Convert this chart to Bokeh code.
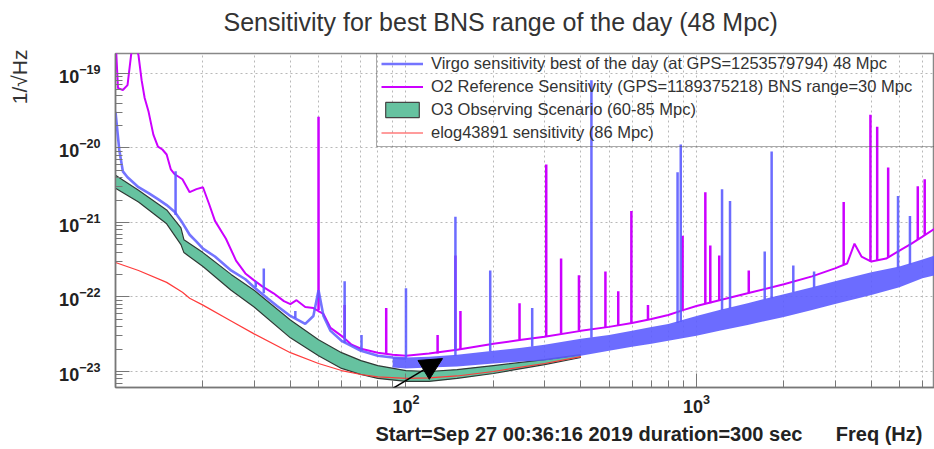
import math

from bokeh.plotting import figure
from bokeh.models import (ColumnDataSource, FixedTicker, Legend, LegendItem,
                          Title, Arrow, NormalHead, Grid)
from bokeh.embed import file_html
from bokeh.resources import INLINE

FONT = "Liberation Sans"

# ---- O3 observing scenario band (upper / lower strain, 1/sqrt(Hz)) ----
o3_freq = [10, 12, 15, 16.8, 17.2, 20, 25, 30, 40, 50, 60, 70, 80, 100,
           120, 150, 200, 300, 400]
o3_upper = [4.30e-21, 2.71e-21, 1.47e-21, 8.47e-22, 5.87e-22, 3.94e-22,
            2.01e-22, 1.23e-22, 4.92e-23, 2.66e-23, 1.79e-23, 1.40e-23,
            1.20e-23, 1.03e-23, 1.00e-23, 1.06e-23, 1.20e-23, 1.44e-23,
            1.68e-23]
o3_lower = [2.88e-21, 1.88e-21, 9.58e-22, 5.04e-22, 3.94e-22, 2.57e-22,
            1.23e-22, 7.32e-23, 2.83e-23, 1.63e-23, 1.10e-23, 9.12e-24,
            8.07e-24, 7.37e-24, 7.37e-24, 8.07e-24, 9.40e-24, 1.24e-23,
            1.54e-23]

# ---- elog43891 sensitivity ----
elog_freq = [10, 12, 15, 17, 18, 20, 25, 30, 40, 50, 60, 70, 80, 100, 120,
             150, 200, 300, 400]
elog_asd = [2.90e-22, 2.27e-22, 1.57e-22, 1.16e-22, 9.64e-23, 7.78e-23,
            4.77e-23, 3.20e-23, 1.79e-23, 1.28e-23, 1.03e-23, 9.12e-24,
            8.45e-24, 8.07e-24, 8.19e-24, 8.71e-24, 1.00e-23, 1.28e-23,
            1.58e-23]

# ---- O2 reference sensitivity ----
o2_freq = [10, 10.2, 10.6, 11, 11.5, 12, 12.3, 12.6, 13, 13.5, 14, 14.5, 15,
           15.5, 16, 17, 18, 19, 20, 21, 22, 24, 26, 28, 30, 32, 35, 38, 40,
           42, 45, 48, 52, 55, 60, 65, 70, 80, 90, 100, 120, 150, 200, 250,
           300, 400, 500, 600, 700, 800, 900, 1000, 1200, 1500, 2000, 2500,
           3000, 3300, 3500, 3700, 4000, 4500, 5000, 5500, 6000, 6600]
o2_asd = [3.0e-19, 6.35e-20, 5.98e-20, 6.97e-20, 3.0e-19, 1.75e-19, 8.12e-20,
          4.68e-20, 3.05e-20, 1.51e-20, 1.04e-20, 9.53e-21, 8.17e-21,
          5.16e-21, 4.43e-21, 3.80e-21, 2.55e-21, 2.80e-21, 2.97e-21,
          1.77e-21, 1.05e-21, 6.05e-22, 3.08e-22, 2.07e-22, 1.67e-22,
          1.39e-22, 1.12e-22, 8.79e-23, 8.02e-23, 9.06e-23, 7.32e-23,
          7.10e-23, 5.91e-23, 3.85e-23, 3.01e-23, 2.29e-23, 2.02e-23,
          1.79e-23, 1.68e-23, 1.63e-23, 1.74e-23, 1.96e-23, 2.36e-23,
          2.66e-23, 2.92e-23, 3.51e-23, 3.97e-23, 4.48e-23, 5.07e-23,
          5.73e-23, 6.67e-23, 7.55e-23, 9.06e-23, 1.12e-22, 1.48e-22,
          1.89e-22, 2.42e-22, 2.81e-22, 5.19e-22, 3.49e-22, 2.99e-22,
          3.28e-22, 4.19e-22, 5.19e-22, 6.44e-22, 8.22e-22]
o2_line_freq = [50, 61.5, 85.5, 128.5, 148, 154, 246, 304, 342, 394, 486,
                538, 597, 681, 896, 1073, 1116, 1198, 1514, 3213, 3972, 4190,
                4571, 5781, 6107]
o2_line_peak = [2.62e-20, 7.78e-23, 7.10e-23, 3.10e-23, 3.60e-22, 6.47e-23,
                8.27e-23, 6.01e-21, 3.28e-22, 1.95e-22, 2.20e-22, 1.19e-22,
                1.43e-21, 7.78e-23, 6.64e-22, 2.55e-21, 4.89e-22, 3.60e-22,
                2.27e-22, 1.88e-21, 2.78e-20, 1.93e-20, 5.48e-21, 3.07e-21,
                3.80e-21]
o2_line_base = [6.67e-23, 2.83e-23, 1.74e-23, 1.74e-23, 1.96e-23, 1.96e-23,
                2.66e-23, 2.92e-23, 3.20e-23, 3.51e-23, 3.97e-23, 4.22e-23,
                4.48e-23, 4.92e-23, 6.67e-23, 8.02e-23, 8.27e-23, 9.06e-23,
                1.12e-22, 2.73e-22, 2.99e-22, 3.08e-22, 3.38e-22, 5.87e-22,
                6.84e-22]

# ---- Virgo best of the day: low-frequency trace ----
virgo_freq = [10, 10.3, 10.6, 11, 12, 13, 14, 15, 16, 17, 18, 19, 20, 22, 25,
              28, 30, 33, 36, 40, 45, 48, 50, 52, 55, 60, 70, 80, 90, 100]
virgo_asd = [3.05e-20, 9.53e-21, 4.85e-21, 4.04e-21, 2.97e-21, 2.48e-21,
             2.06e-21, 1.71e-21, 1.38e-21, 9.88e-22, 6.84e-22, 5.52e-22,
             4.46e-22, 3.49e-22, 2.27e-22, 1.73e-22, 1.35e-22, 9.94e-23,
             7.55e-23, 5.56e-23, 4.35e-23, 5.56e-23, 1.23e-22, 5.56e-23,
             3.51e-23, 2.58e-23, 1.90e-23, 1.63e-23, 1.54e-23, 1.49e-23]
# broadband noise envelope above 90 Hz
virgo_band_freq = [90, 100, 120, 150, 200, 250, 300, 400, 500, 600, 700, 800,
                   1000, 1200, 1500, 2000, 2500, 3000, 4000, 5000, 6000, 6600]
virgo_band_hi = [1.54e-23, 1.54e-23, 1.58e-23, 1.68e-23, 1.90e-23, 2.09e-23,
                 2.29e-23, 2.75e-23, 3.10e-23, 3.51e-23, 3.97e-23, 4.35e-23,
                 5.56e-23, 6.67e-23, 8.27e-23, 1.09e-22, 1.35e-22, 1.62e-22,
                 2.14e-22, 2.57e-22, 3.18e-22, 3.60e-22]
virgo_band_lo = [1.13e-23, 1.10e-23, 1.13e-23, 1.17e-23, 1.28e-23, 1.36e-23,
                 1.40e-23, 1.63e-23, 1.90e-23, 2.15e-23, 2.36e-23, 2.58e-23,
                 3.01e-23, 3.51e-23, 4.22e-23, 5.39e-23, 6.67e-23, 8.02e-23,
                 1.06e-22, 1.35e-22, 1.78e-22, 1.95e-22]
virgo_line_freq = [16.1, 30.4, 32.4, 41.6, 61.5, 70.3, 100, 148, 195, 272,
                   435, 861, 883, 1225, 1305, 1718, 1815, 2155, 2541, 4943,
                   5433]
virgo_line_peak = [4.85e-21, 1.62e-22, 2.42e-22, 6.47e-23, 1.62e-22, 3.10e-23,
                   1.31e-22, 1.19e-21, 2.27e-22, 7.10e-23, 8.12e-20, 4.71e-21,
                   1.11e-20, 2.80e-21, 1.94e-21, 4.07e-22, 8.96e-21, 2.65e-22,
                   2.20e-22, 2.26e-21, 1.22e-21]
virgo_line_base = [1.26e-21, 1.35e-22, 1.12e-22, 5.23e-23, 2.43e-23, 1.90e-23,
                   1.49e-23, 1.63e-23, 1.85e-23, 2.15e-23, 2.83e-23, 4.48e-23,
                   4.62e-23, 6.67e-23, 7.10e-23, 9.35e-23, 9.64e-23, 1.16e-22,
                   1.35e-22, 2.49e-22, 2.73e-22]

# ---- axes ----
x_major = [100, 1000]
x_minor = [20, 30, 40, 50, 60, 70, 80, 90, 200, 300, 400, 500, 600, 700,
           800, 900, 2000, 3000, 4000, 5000, 6000]
y_major = [1e-23, 1e-22, 1e-21, 1e-20, 1e-19]
freq_span = (10, 6600)
asd_span = (6.1e-24, 1.85e-19)

# arrow annotation (tail -> head), frequency / strain
arrow_tail = (40.6, 9.2e-25)
arrow_head = (133.6, 1.49e-23)

TITLE = "Sensitivity for best BNS range of the day (48 Mpc)"
FOOTER = "Start=Sep 27 00:36:16 2019 duration=300 sec" + "\u00a0" * 6 + "Freq (Hz)"
YLABEL = "1/\u221aHz"
LABELS = ["Virgo sensitivity best of the day (at GPS=1253579794) 48 Mpc",
          "O2 Reference Sensitivity (GPS=1189375218) BNS range=30 Mpc",
          "O3 Observing Scenario (60-85 Mpc)",
          "elog43891 sensitivity (86 Mpc)"]

BLUE = "#5c5cff"
MAGENTA = "#cc00ff"
GREEN = "#66c2a0"
RED = "#ff3b3b"

W, H = 934, 449
FRAME_L, FRAME_T, FRAME_B = 112, 53, 390
LEG_X, LEG_TOP, LEG_BOTTOM = 373, 54, 150   # legend box, canvas pixels

p = figure(width=W, height=H, x_axis_type="log", y_axis_type="log",
           x_range=freq_span, y_range=asd_span, title=None,
           output_backend="svg", toolbar_location=None,
           min_border_left=FRAME_L, min_border_right=0,
           min_border_top=FRAME_T, min_border_bottom=55)
p.outline_line_color = "#888888"
p.outline_line_width = 1.5

# thin spacer row between the frame and the title
p.add_layout(Title(text="\u00a0", text_font_size="1px"), "above")
p.add_layout(Title(text=TITLE, align="left", offset=108, text_font=FONT,
                   text_font_size="25px", text_font_style="normal",
                   text_color="#333333"), "above")

p.add_layout(Title(text=YLABEL, align="right", offset=-4, text_font=FONT,
                   text_font_size="21px", text_font_style="normal",
                   text_color="#333333"), "left")
p.add_layout(Title(text=FOOTER, align="left", offset=260, text_font=FONT,
                   text_font_size="20px", text_font_style="bold",
                   text_color="#222222"), "below")

for ax in (p.xaxis[0], p.yaxis[0]):
    ax.major_tick_in = 14
    ax.major_tick_out = 0
    ax.minor_tick_in = 7
    ax.minor_tick_out = 0
    ax.axis_line_color = "#777777"
    ax.axis_line_width = 1.5
    ax.major_tick_line_color = "#777777"
    ax.minor_tick_line_color = "#777777"
    ax.major_label_text_font = FONT
    ax.major_label_text_font_size = "18px"
    ax.major_label_text_font_style = "bold"
    ax.major_label_text_color = "#222222"
p.xaxis[0].ticker = FixedTicker(ticks=x_major, minor_ticks=x_minor)
p.xaxis[0].major_label_standoff = 6
p.yaxis[0].major_label_standoff = 15
# blank label keeps the unit title clear of the tick labels
p.yaxis[0].axis_label = "\u00a0"
p.yaxis[0].axis_label_text_font_size = "12px"
p.yaxis[0].axis_label_standoff = 4

# pixel -> data helpers for the legend box edges (grid lines stop there)
fw = W - FRAME_L
fh = FRAME_B - FRAME_T
px_dec_x = fw / (math.log10(freq_span[1]) - math.log10(freq_span[0]))
px_dec_y = fh / (math.log10(asd_span[1]) - math.log10(asd_span[0]))
leg_f = freq_span[0] * 10 ** ((LEG_X - FRAME_L) / px_dec_x)
leg_h = asd_span[1] / 10 ** ((LEG_BOTTOM - FRAME_T) / px_dec_y)

grid_ticks_x = sorted(x_major + x_minor)
p.xgrid.ticker = FixedTicker(ticks=[t for t in grid_ticks_x if t < leg_f])
p.ygrid.ticker = FixedTicker(ticks=[t for t in y_major if t < leg_h])
p.add_layout(Grid(dimension=0, bounds=(asd_span[0], leg_h),
                  ticker=FixedTicker(ticks=[t for t in grid_ticks_x
                                            if t >= leg_f])))
p.add_layout(Grid(dimension=1, bounds=(freq_span[0], leg_f),
                  ticker=FixedTicker(ticks=[t for t in y_major
                                            if t >= leg_h])))
for g in p.grid:
    g.grid_line_color = "#b8b8b8"
    g.grid_line_dash = "2 3"
    g.grid_line_width = 1

# O2 reference
o2_src = ColumnDataSource(dict(f=o2_freq, h=o2_asd))
o2_r = p.line("f", "h", source=o2_src, line_color=MAGENTA, line_width=2)
p.segment(x0=o2_line_freq, y0=o2_line_base, x1=o2_line_freq,
          y1=o2_line_peak, line_color=MAGENTA, line_width=2.5)

# O3 band
o3_src = ColumnDataSource(dict(f=o3_freq, hi=o3_upper, lo=o3_lower))
p.varea(x="f", y1="lo", y2="hi", source=o3_src, fill_color=GREEN)
p.line("f", "hi", source=o3_src, line_color="#2f3a35", line_width=1.2)
p.line("f", "lo", source=o3_src, line_color="#2f3a35", line_width=1.2)
# zero-size box at the first band point, used as the legend swatch
o3_swatch = p.quad(left=o3_freq[:1], right=o3_freq[:1], bottom=o3_upper[:1],
                   top=o3_upper[:1], fill_color=GREEN, line_color="#444444",
                   line_width=1.2)

# elog reference
elog_r = p.line(elog_freq, elog_asd, line_color=RED, line_width=1.2)

# Virgo best of the day
vb_src = ColumnDataSource(dict(f=virgo_band_freq, hi=virgo_band_hi,
                               lo=virgo_band_lo))
p.varea(x="f", y1="lo", y2="hi", source=vb_src, fill_color=BLUE,
        fill_alpha=0.9)
virgo_r = p.line(virgo_freq, virgo_asd, line_color=BLUE, line_width=2.6,
                 line_alpha=0.85)
p.segment(x0=virgo_line_freq, y0=virgo_line_base, x1=virgo_line_freq,
          y1=virgo_line_peak, line_color=BLUE, line_width=2.5,
          line_alpha=0.9)

# legend box is see-through so the tall lines show across it
legend = Legend(items=[LegendItem(label=LABELS[0], renderers=[virgo_r]),
                       LegendItem(label=LABELS[1], renderers=[o2_r]),
                       LegendItem(label=LABELS[2], renderers=[o3_swatch]),
                       LegendItem(label=LABELS[3], renderers=[elog_r])],
                location=(LEG_X - FRAME_L, FRAME_B - LEG_BOTTOM))
legend.border_line_color = "#555555"
legend.border_line_width = 1.5
legend.background_fill_alpha = 0.0
legend.label_text_font = FONT
legend.label_text_font_size = "16.5px"
legend.label_text_color = "#333333"
legend.glyph_width = 42
legend.glyph_height = 19
legend.label_height = 19
legend.label_width = 506
legend.spacing = 4
legend.padding = 4
legend.margin = 0
legend.label_standoff = 8
p.add_layout(legend)

# pointer arrow
p.add_layout(Arrow(end=NormalHead(size=22, fill_color="black",
                                  line_color="black"),
                   x_start=arrow_tail[0], y_start=arrow_tail[1],
                   x_end=arrow_head[0], y_end=arrow_head[1],
                   line_color="black", line_width=1.5))

open("out.html", "w").write(file_html(p, INLINE))
